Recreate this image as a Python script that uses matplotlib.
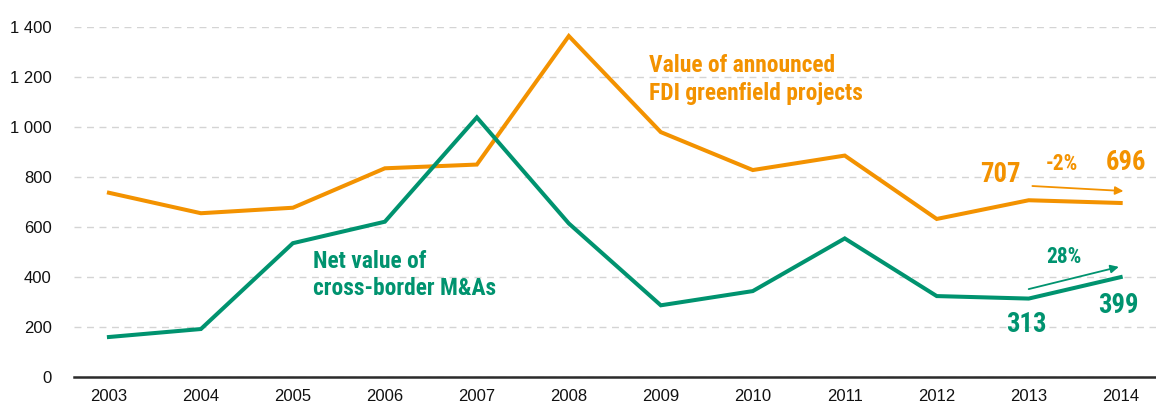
import matplotlib
matplotlib.use('Agg')
import matplotlib.pyplot as plt

# data (billions of dollars)
years = [2003, 2004, 2005, 2006, 2007, 2008, 2009, 2010, 2011, 2012, 2013, 2014]
greenfield = [737, 655, 677, 835, 850, 1365, 980, 828, 886, 632, 707, 696]
mna = [159, 191, 535, 621, 1039, 614, 286, 343, 554, 323, 313, 399]
yticks = [0, 200, 400, 600, 800, 1000, 1200, 1400]
ytick_labels = ['0', '200', '400', '600', '800', '1 000', '1 200', '1 400']

ORANGE = '#F39200'
GREEN = '#00936F'
NARROW = ['Roboto Condensed', 'Archivo Narrow', 'Liberation Sans', 'DejaVu Sans']

plt.rcParams['font.family'] = ['Liberation Sans', 'DejaVu Sans']

fig = plt.figure(figsize=(11.56, 4.05), dpi=100)
ax = fig.add_axes([0.064, 0.0699, 0.936, 0.8627])

ax.plot(years, greenfield, color=ORANGE, linewidth=2.9, solid_joinstyle='miter', clip_on=False, zorder=3)
ax.plot(years, mna, color=GREEN, linewidth=2.9, solid_joinstyle='miter', clip_on=False, zorder=3)

ax.set_xlim(2003 - 0.38, 2014 + 0.384)
ax.set_ylim(0, 1400)
ax.set_xticks(years)
ax.set_xticklabels([str(y) for y in years])
ax.set_yticks(yticks)
ax.set_yticklabels(ytick_labels)
ax.tick_params(axis='both', length=0, labelsize=12, colors='#111111')
ax.tick_params(axis='y', pad=16)
ax.tick_params(axis='x', pad=9)

for s in ['top', 'right', 'left']:
  ax.spines[s].set_visible(False)
ax.spines['bottom'].set_color('#2b2b2b')
ax.spines['bottom'].set_linewidth(1.8)
ax.spines['bottom'].set_zorder(4)

ax.set_axisbelow(True)
ax.yaxis.grid(True, color='#d4d4d4', linewidth=1.0, linestyle=(0, (5, 4)))

# series labels (baseline of the last line)
ax.text(2008.87, 1109, 'Value of announced\nFDI greenfield projects', color=ORANGE,
        fontsize=16.9, fontweight='bold', family=NARROW, ha='left', va='baseline',
        linespacing=1.25)
ax.text(2005.22, 327, 'Net value of\ncross-border M&As', color=GREEN,
        fontsize=16.9, fontweight='bold', family=NARROW, ha='left', va='baseline',
        linespacing=1.25)

# end-point values
ax.text(2012.69, 780, f'{greenfield[-2]}', color=ORANGE, fontsize=19.2, fontweight='bold',
        family=NARROW, ha='center', va='baseline')
ax.text(2014.06, 828, f'{greenfield[-1]}', color=ORANGE, fontsize=19.2, fontweight='bold',
        family=NARROW, ha='center', va='baseline')
ax.text(2012.98, 179, f'{mna[-2]}', color=GREEN, fontsize=19.2, fontweight='bold',
        family=NARROW, ha='center', va='baseline')
ax.text(2013.98, 255, f'{mna[-1]}', color=GREEN, fontsize=19.2, fontweight='bold',
        family=NARROW, ha='center', va='baseline')

# growth rates with arrows
ax.text(2013.36, 828, '-2%', color=ORANGE, fontsize=15.5, fontweight='bold',
        family=NARROW, ha='center', va='baseline')
ax.annotate('', xy=(2014.03, 744), xytext=(2013.04, 764),
            arrowprops=dict(arrowstyle='-|>', color=ORANGE, lw=1.3, mutation_scale=12,
                            shrinkA=0, shrinkB=0))
ax.text(2013.38, 456, '28%', color=GREEN, fontsize=15.5, fontweight='bold',
        family=NARROW, ha='center', va='baseline')
ax.annotate('', xy=(2013.98, 440), xytext=(2013.0, 351),
            arrowprops=dict(arrowstyle='-|>', color=GREEN, lw=1.3, mutation_scale=12,
                            shrinkA=0, shrinkB=0))

fig.savefig('out.png', dpi=100)
